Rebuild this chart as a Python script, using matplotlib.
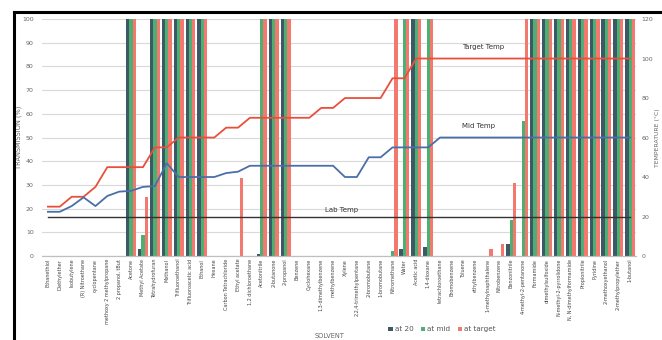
import numpy as np
import matplotlib.pyplot as plt
from matplotlib.lines import Line2D

solvents = ["Ethanethiol", "Diethylether", "Isobutylene", "(R) Nitroethane", "cyclopentane",
            "methoxy 2 methylpropane", "2 propanol, tBut", "Acetone", "Methyl Acetate",
            "Tetrahydrofuran", "Methanol", "Trifluoroethanol", "Trifluoroacetic acid", "Ethanol",
            "Hexane", "Carbon Tetrachloride", "Ethyl acetate", "1,2 dichloroethane", "Acetonitrile",
            "2-butanone", "2-propanol", "Benzene", "Cyclohexane", "1,3-dimethylbenzene",
            "methylbenzene", "Xylene", "2,2,4-trimethylpentane", "2-bromobutane", "1-bromobutane",
            "Nitromethane", "Water", "Acetic acid", "1,4-dioxane", "tetrachloroethane",
            "Bromobenzene", "Toluene", "ethylbenzene", "1-methylnaphthalene", "Nitrobenzene",
            "Benzonitrile", "4-methyl-2-pentanone", "Formamide", "dimethylsulfoxide",
            "N-methyl-2-pyrrolidone", "N, N-dimethylformamide", "Propionitrile", "Pyridine",
            "2-methoxyethanol", "2-methylpropylether", "1-butanol"]

# transmission (%) at each temperature
at_20 = [0, 0, 0, 0, 0, 0, 0, 100, 3, 100, 100, 100, 100, 100, 0, 0, 0, 0, 1, 100,
         100, 0, 0, 0, 0, 0, 0, 0, 0, 0, 3, 100, 4, 0, 0, 0, 0, 0, 0, 5,
         0, 100, 100, 100, 100, 100, 100, 100, 100, 100]
at_mid = [0, 0, 0, 0, 0, 0, 0, 100, 9, 100, 100, 100, 100, 100, 0, 0, 0, 0, 100, 100,
          100, 0, 0, 0, 0, 0, 0, 0, 0, 2, 100, 100, 100, 0, 0, 0, 0, 0, 0, 15,
          57, 100, 100, 100, 100, 100, 100, 100, 100, 100]
at_target = [0, 0, 0, 0, 0, 0, 0, 100, 25, 100, 100, 100, 100, 100, 0, 0, 33, 0, 100, 100,
             100, 0, 0, 0, 0, 0, 0, 0, 0, 100, 100, 100, 100, 0, 0, 0, 0, 3, 5, 31,
             100, 100, 100, 100, 100, 100, 100, 100, 100, 100]

# temperatures (right axis)
target_temp = [25, 25, 30, 30, 35, 45, 45, 45, 45, 55, 55, 60, 60, 60, 60, 65, 65, 70, 70, 70,
               70, 70, 70, 75, 75, 80, 80, 80, 80, 90, 90, 100, 100, 100, 100, 100, 100, 100, 100, 100,
               100, 100, 100, 100, 100, 100, 100, 100, 100, 100]
mid_temp = [22.4, 22.4, 25.3, 29.7, 25.3, 30.4, 32.6, 33, 35, 35.4, 47, 40, 40, 40, 40, 42, 42.7, 45.7, 45.7, 45.7,
            45.7, 45.7, 45.7, 45.7, 45.7, 40, 40, 50, 50, 55, 55, 55, 55, 60, 60, 60, 60, 60, 60, 60,
            60, 60, 60, 60, 60, 60, 60, 60, 60, 60]
lab_temp = [20] * len(solvents)

c20 = "#3f5868"
cmid = "#4fae72"
ctar = "#f3796f"

fig = plt.figure(figsize=(6.62, 3.40), dpi=100)
ax = fig.add_axes([0.0634, 0.247, 0.8975, 0.697])
ax2 = ax.twinx()

x = np.arange(len(solvents))
w = 0.28
ax.bar(x - w, at_20, w, color=c20, label="at 20", zorder=2)
ax.bar(x, at_mid, w, color=cmid, label="at mid", zorder=2)
ax.bar(x + w, at_target, w, color=ctar, label="at target", zorder=2)

ax.set_ylim(0, 100)
ax.set_yticks(range(0, 101, 10))
ax.set_xlim(-0.5, len(solvents) - 0.5)
ax.grid(axis="y", color="#d9d9d9", linewidth=0.8, zorder=0)
ax.set_axisbelow(True)
ax.set_xticks(x)
ax.set_xticklabels(solvents, rotation=90, fontsize=3.5, color="#444444")
ax.tick_params(axis="both", length=0, pad=2)
ax.tick_params(axis="y", labelsize=4.5, labelcolor="#666666", pad=6)
ax.set_ylabel("TRANSMISSION (%)", fontsize=4.8, color="#666666")
ax.yaxis.set_label_coords(-0.034, 0.5)
fig.text(330 / 662, 0.004, "SOLVENT", fontsize=4.8, color="#666666", ha="center", va="bottom")

ax2.plot(x, target_temp, color="#e8503c", lw=1.3)
ax2.plot(x, mid_temp, color="#4a6fa8", lw=1.3)
ax2.plot(x, lab_temp, color="#333333", lw=1.0)
ax2.set_ylim(0, 120)
ax2.set_yticks(range(0, 121, 20))
ax2.tick_params(axis="y", length=0, labelsize=4.5, labelcolor="#666666", pad=4)
ax2.set_ylabel("TEMPERATURE (°C)", fontsize=4.4, color="#666666", rotation=90)
ax2.yaxis.set_label_coords(1.031, 0.5)

ax2.text(36.6, 104.5, "Target Temp", fontsize=5, color="#333333", ha="center", va="bottom")
ax2.text(36.2, 64.5, "Mid Temp", fontsize=5, color="#333333", ha="center", va="bottom")
ax2.text(24.7, 22, "Lab Temp", fontsize=5, color="#333333", ha="center", va="bottom")

for a in (ax, ax2):
    for s in ("top", "left", "right"):
        a.spines[s].set_visible(False)
    a.spines["bottom"].set_color("#bfbfbf")

ax.legend(loc="center left", bbox_to_anchor=(0.572, -0.31), ncol=3, frameon=False,
          fontsize=5.2, handlelength=0.6, handleheight=0.6, columnspacing=1.0,
          handletextpad=0.3, labelcolor="#555555")

# outer border
fig.add_artist(Line2D([14 / 662, 1], [1 - 12 / 340, 1 - 12 / 340], color="black", lw=2.2,
                      transform=fig.transFigure))
fig.add_artist(Line2D([14 / 662, 14 / 662], [0, 1 - 12 / 340], color="black", lw=2.2,
                      transform=fig.transFigure))

fig.savefig("out.png", dpi=100)
